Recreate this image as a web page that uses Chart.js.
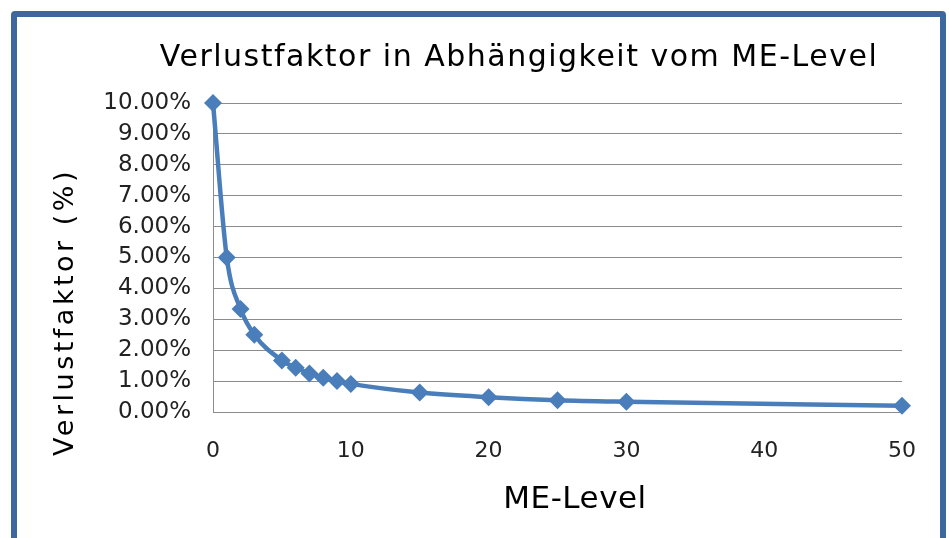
<!DOCTYPE html>
<html>
<head>
<meta charset="utf-8">
<script src="https://cdn.jsdelivr.net/npm/chart.js@4/dist/chart.umd.min.js"></script>
<style>
    body { margin: 0; background: #fff; }
    #wrap { position: relative; width: 949px; height: 538px; overflow: hidden; }
    #chart { position: absolute; left: 0; top: 0; }
    #frame {
        position: absolute; left: 11px; top: 11px; width: 923px; height: 540px;
        border: 6px solid #3d689d; border-radius: 4px; pointer-events: none;
    }
</style>
</head>
<body>
<div id="wrap">
    <canvas id="chart" width="949" height="538"></canvas>
    <div id="frame"></div>
</div>
<script>
// Werte
const meLevel = [0, 1, 2, 3, 5, 6, 7, 8, 9, 10, 15, 20, 25, 30, 50]
const verlust = [10.0, 5.0, 3.33, 2.5, 1.67, 1.43, 1.25, 1.11, 1.0, 0.91, 0.63, 0.48, 0.38, 0.33, 0.2]
const yTicks = [0, 1, 2, 3, 4, 5, 6, 7, 8, 9, 10]
const xTicks = [0, 10, 20, 30, 40, 50]

const titleText = "Verlustfaktor in Abhängigkeit vom ME-Level"
const yTitle = "Verlustfaktor (%)"
const xTitle = "ME-Level"

const lineColor = "#4a7ebb"
const gridColor = "#8c8c8c"

window.onload = function () {
    drawChart()
}

function drawChart() {
    const points = []
    for (let i = 0; i < meLevel.length; i++) {
        points.push({x: meLevel[i], y: verlust[i]})
    }

    // Titel + Achsentitel selbst zeichnen (Excel setzt sie nicht mittig)
    const chartTexts = {
        id: 'chartTexts',
        afterDraw: function (chart) {
            const ctx = chart.ctx
            const area = chart.chartArea
            ctx.save()
            ctx.fillStyle = "#000"
            ctx.textAlign = "center"
            ctx.textBaseline = "middle"

            ctx.font = "30px 'DejaVu Sans'"
            ctx.letterSpacing = "1.5px"
            ctx.fillText(titleText, 519, area.top - 45)

            ctx.font = "31px 'DejaVu Sans'"
            ctx.letterSpacing = "0.5px"
            ctx.fillText(xTitle, area.left + 362, area.bottom + 88)

            ctx.font = "27px 'DejaVu Sans'"
            ctx.letterSpacing = "3.5px"
            ctx.translate(66, area.bottom - 100)
            ctx.rotate(-Math.PI / 2)
            ctx.fillText(yTitle, 0, 0)
            ctx.restore()
        }
    }

    const chartContext = document.getElementById('chart').getContext('2d')
    new Chart(chartContext, {
        type: 'line',
        data: {
            datasets: [{
                data: points,
                borderColor: lineColor,
                backgroundColor: lineColor,
                borderWidth: 4.5,
                cubicInterpolationMode: 'monotone',
                pointStyle: 'rectRot',
                pointRadius: 9,
                pointBorderWidth: 0,
                clip: false,
                fill: false
            }]
        },
        options: {
            responsive: false,
            animation: false,
            layout: {
                padding: {left: 88, right: 47, top: 103, bottom: 0}
            },
            plugins: {
                legend: {display: false},
                tooltip: {enabled: false},
                title: {display: false}
            },
            scales: {
                x: {
                    type: 'linear',
                    min: 0,
                    max: 50,
                    afterBuildTicks: function (scale) {
                        scale.ticks = xTicks.map(function (v) { return {value: v} })
                    },
                    afterFit: function (scale) { scale.height = 126 },
                    grid: {display: false, drawTicks: false},
                    border: {display: true, color: gridColor, width: 1},
                    ticks: {
                        color: "#222",
                        padding: 26,
                        maxRotation: 0,
                        font: {family: "'DejaVu Sans'", size: 22}
                    }
                },
                y: {
                    min: 0,
                    max: 10,
                    afterBuildTicks: function (scale) {
                        scale.ticks = yTicks.map(function (v) { return {value: v} })
                    },
                    afterFit: function (scale) { scale.width = 125 },
                    grid: {color: gridColor, drawTicks: false},
                    border: {display: true, color: gridColor, width: 1},
                    ticks: {
                        color: "#222",
                        padding: 22,
                        font: {family: "'DejaVu Sans'", size: 23},
                        callback: function (v) { return v.toFixed(2) + "%" }
                    }
                }
            }
        },
        plugins: [chartTexts]
    })
}
</script>
</body>
</html>
